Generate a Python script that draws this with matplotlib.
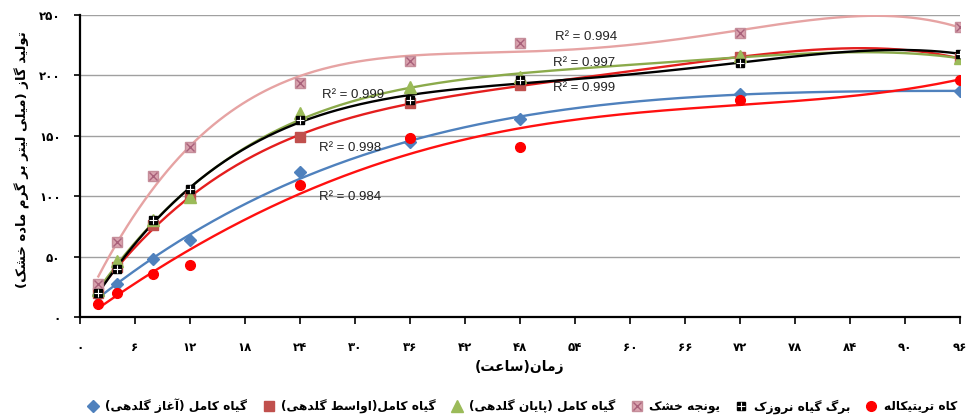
import numpy as np
import matplotlib
matplotlib.use("Agg")
import matplotlib.pyplot as plt
from matplotlib.legend_handler import HandlerTuple

# ---------------- data ----------------
hours = [2, 4, 8, 12, 24, 36, 48, 72, 96]
early_bloom = [18, 27, 48, 64, 120, 145, 164, 185, 187]      # blue diamond
mid_bloom = [20, 41, 76, 99, 149, 177, 192, 215, 214]        # red square
late_bloom = [22, 46, 80, 99, 169, 190, 199, 216, 214]       # green triangle
alfalfa = [27, 62, 117, 141, 194, 212, 227, 235, 240]        # pink x
leaf = [20, 40, 80, 106, 163, 180, 196, 210, 218]            # black square
straw = [11, 20, 36, 43, 109, 148, 141, 180, 196]            # red circle

series_names = ["گیاه کامل (آغاز گلدهی)", "گیاه کامل(اواسط گلدهی)",
                "گیاه کامل (پایان گلدهی)", "یونجه خشک", "برگ گیاه نروزک",
                "کاه تریتیکاله"]
r2_labels = ["R² = 0.998", "R² = 0.997", "R² = 0.999", "R² = 0.994",
             "R² = 0.999", "R² = 0.984"]
x_ticks = [0, 6, 12, 18, 24, 30, 36, 42, 48, 54, 60, 66, 72, 78, 84, 90, 96]
x_tick_labels = ["۰", "۶", "۱۲", "۱۸", "۲۴", "۳۰", "۳۶", "۴۲", "۴۸", "۵۴",
                 "۶۰", "۶۶", "۷۲", "۷۸", "۸۴", "۹۰", "۹۶"]
y_ticks = [0, 50, 100, 150, 200, 250]
y_tick_labels = ["۰", "۵۰", "۱۰۰", "۱۵۰", "۲۰۰", "۲۵۰"]
x_title = "زمان(ساعت)"
y_title = "تولید گاز (میلی لیتر بر گرم ماده خشک)"

# ---------------- Persian shaping (manual) ----------------
FORMS = {
    "\u0627": ("\uFE8D", "\uFE8E", None, None),
    "\u0622": ("\uFE81", "\uFE82", None, None),
    "\u0628": ("\uFE8F", "\uFE90", "\uFE91", "\uFE92"),
    "\u067E": ("\uFB56", "\uFB57", "\uFB58", "\uFB59"),
    "\u062A": ("\uFE95", "\uFE96", "\uFE97", "\uFE98"),
    "\u062B": ("\uFE99", "\uFE9A", "\uFE9B", "\uFE9C"),
    "\u062C": ("\uFE9D", "\uFE9E", "\uFE9F", "\uFEA0"),
    "\u0686": ("\uFB7A", "\uFB7B", "\uFB7C", "\uFB7D"),
    "\u062D": ("\uFEA1", "\uFEA2", "\uFEA3", "\uFEA4"),
    "\u062E": ("\uFEA5", "\uFEA6", "\uFEA7", "\uFEA8"),
    "\u062F": ("\uFEA9", "\uFEAA", None, None),
    "\u0630": ("\uFEAB", "\uFEAC", None, None),
    "\u0631": ("\uFEAD", "\uFEAE", None, None),
    "\u0632": ("\uFEAF", "\uFEB0", None, None),
    "\u0698": ("\uFB8A", "\uFB8B", None, None),
    "\u0633": ("\uFEB1", "\uFEB2", "\uFEB3", "\uFEB4"),
    "\u0634": ("\uFEB5", "\uFEB6", "\uFEB7", "\uFEB8"),
    "\u0635": ("\uFEB9", "\uFEBA", "\uFEBB", "\uFEBC"),
    "\u0636": ("\uFEBD", "\uFEBE", "\uFEBF", "\uFEC0"),
    "\u0637": ("\uFEC1", "\uFEC2", "\uFEC3", "\uFEC4"),
    "\u0638": ("\uFEC5", "\uFEC6", "\uFEC7", "\uFEC8"),
    "\u0639": ("\uFEC9", "\uFECA", "\uFECB", "\uFECC"),
    "\u063A": ("\uFECD", "\uFECE", "\uFECF", "\uFED0"),
    "\u0641": ("\uFED1", "\uFED2", "\uFED3", "\uFED4"),
    "\u0642": ("\uFED5", "\uFED6", "\uFED7", "\uFED8"),
    "\u06A9": ("\uFB8E", "\uFB8F", "\uFB90", "\uFB91"),
    "\u06AF": ("\uFB92", "\uFB93", "\uFB94", "\uFB95"),
    "\u0644": ("\uFEDD", "\uFEDE", "\uFEDF", "\uFEE0"),
    "\u0645": ("\uFEE1", "\uFEE2", "\uFEE3", "\uFEE4"),
    "\u0646": ("\uFEE5", "\uFEE6", "\uFEE7", "\uFEE8"),
    "\u0648": ("\uFEED", "\uFEEE", None, None),
    "\u0647": ("\uFEE9", "\uFEEA", "\uFEEB", "\uFEEC"),
    "\u06CC": ("\uFBFC", "\uFBFD", "\uFBFE", "\uFBFF"),
}


def fa(text):
    chars = list(text)
    out = []
    n = len(chars)
    for i, c in enumerate(chars):
        if c not in FORMS:
            out.append(c)
            continue
        iso, fin, ini, med = FORMS[c]
        prev = chars[i - 1] if i > 0 else None
        nxt = chars[i + 1] if i < n - 1 else None
        join_prev = prev in FORMS and FORMS[prev][2] is not None
        join_next = nxt in FORMS and ini is not None
        if join_prev and join_next:
            out.append(med)
        elif join_prev:
            out.append(fin)
        elif join_next:
            out.append(ini)
        else:
            out.append(iso)
    vis = "".join(reversed(out))
    vis = vis.replace("(", "\0").replace(")", "(").replace("\0", ")")
    return vis


# ---------------- figure ----------------
plt.rcParams["font.family"] = ["DejaVu Sans"]
fig = plt.figure(figsize=(9.72, 4.16), dpi=100)
ax = fig.add_axes([80 / 972, 99 / 416, 880 / 972, 302 / 416])

xs = np.linspace(min(hours), max(hours), 300)
TREND_ORDER = 4

styles = [
    dict(data=early_bloom, lc="#4F81BD", mk="D", mfc="#4F81BD", mec="#4F81BD", ms=6.5),
    dict(data=mid_bloom, lc="#E41E1E", mk="s", mfc="#C0504D", mec="#C0504D", ms=7),
    dict(data=late_bloom, lc="#8BAA4B", mk="^", mfc="#9BBB59", mec="#9BBB59", ms=8),
    dict(data=alfalfa, lc="#E6A3A3", mk="s", mfc="#D9A3AE", mec="#C58E9A", ms=7.5),
    dict(data=leaf, lc="#000000", mk="s", mfc="#000000", mec="#000000", ms=5.5),
    dict(data=straw, lc="#FF1010", mk="o", mfc="#FF0000", mec="#FF0000", ms=7),
]

handles = []
for st in styles:
    coef = np.polyfit(hours, st["data"], TREND_ORDER)
    ax.plot(xs, np.polyval(coef, xs), color=st["lc"], lw=1.7, zorder=3)

for st in styles:
    h, = ax.plot(hours, st["data"], ls="none", marker=st["mk"], ms=st["ms"],
                 mfc=st["mfc"], mec=st["mec"], zorder=4)
    if st["data"] is alfalfa:
        h2, = ax.plot(hours, st["data"], ls="none", marker="x", ms=st["ms"] - 1.5,
                      mec="#A8607A", mew=1.0, zorder=5)
        handles.append((h, h2))
    elif st["data"] is leaf:
        h2, = ax.plot(hours, st["data"], ls="none", marker="+", ms=st["ms"],
                      mec="white", mew=0.8, zorder=5)
        handles.append((h, h2))
    else:
        handles.append(h)

# R^2 annotations (positions in data coordinates)
r2_pos = [(26.1, 140), (51.6, 210), (51.6, 189.5), (51.8, 232), (26.4, 184), (26.1, 99)]
for lab, (px, py) in zip(r2_labels, r2_pos):
    ax.text(px, py, lab, fontsize=9.5, family="Liberation Sans", va="center",
            ha="left", color="#222222", zorder=6)

ax.set_xlim(0, 96)
ax.set_ylim(0, 250)
ax.set_xticks(x_ticks)
ax.set_xticklabels(x_tick_labels, fontsize=8.5, fontweight="bold")
ax.set_yticks(y_ticks)
ax.set_yticklabels(y_tick_labels, fontsize=8.5, fontweight="bold")
ax.tick_params(axis="x", direction="out", length=5, width=1.2, pad=12)
ax.tick_params(axis="y", direction="out", length=4, width=1.2, pad=10)
ax.grid(axis="y", color="#A0A0A0", lw=1.0)
ax.set_axisbelow(True)
for s in ["top", "right"]:
    ax.spines[s].set_visible(False)
for s in ["left", "bottom"]:
    ax.spines[s].set_linewidth(1.6)

fig.text(520 / 972, 1 - 367 / 416, fa(x_title), ha="center", va="center",
         fontsize=10, fontweight="bold")
fig.text(22 / 972, 1 - 160 / 416, fa(y_title), ha="center", va="center",
         rotation=90, fontsize=9.5, fontweight="bold")

fig.legend(handles, [fa(s) for s in series_names], loc="center",
           bbox_to_anchor=(522 / 972, 1 - 406 / 416), ncol=6, frameon=False,
           prop=dict(size=8.8, weight="bold"), handlelength=1.0, handletextpad=0.5,
           columnspacing=1.25, handler_map={tuple: HandlerTuple(ndivide=1, pad=0)})

fig.savefig("out.png", dpi=100)
